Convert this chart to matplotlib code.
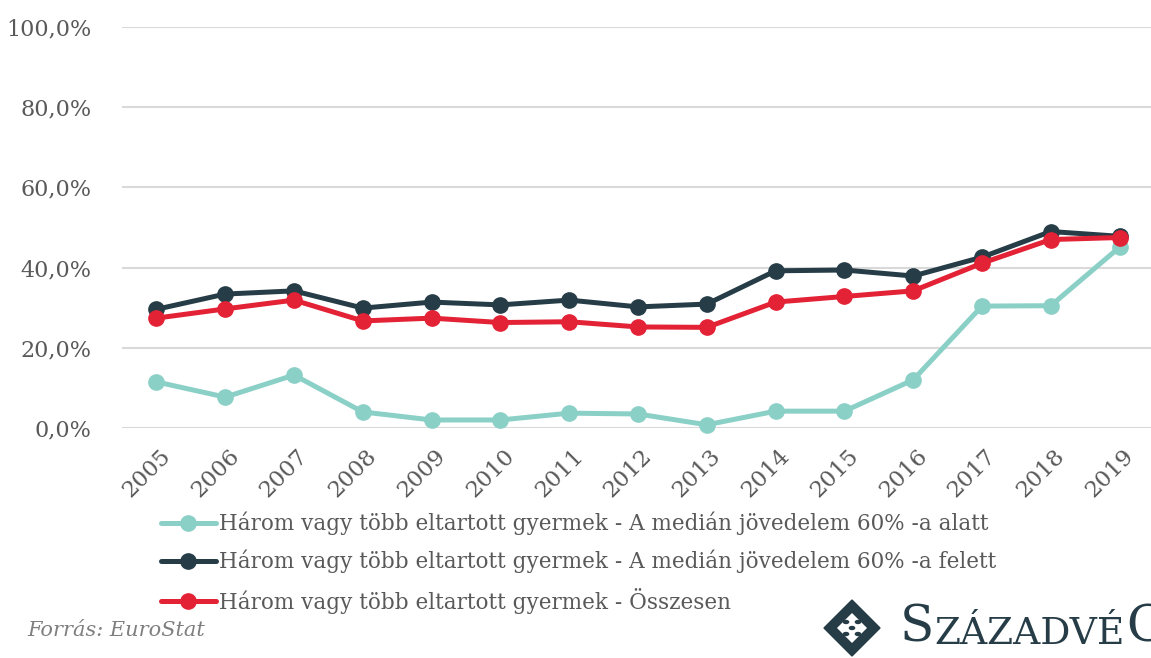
import matplotlib
matplotlib.use("Agg")
import matplotlib.pyplot as plt
from matplotlib.patches import Polygon, Circle
import matplotlib.transforms as mtransforms

# data
years = ['2005', '2006', '2007', '2008', '2009', '2010', '2011', '2012',
         '2013', '2014', '2015', '2016', '2017', '2018', '2019']
below_60 = [11.5, 7.7, 13.2, 4.0, 2.0, 2.0, 3.7, 3.5, 0.8, 4.2, 4.2, 12.0, 30.4, 30.5, 45.1]
above_60 = [29.6, 33.4, 34.2, 29.9, 31.4, 30.7, 31.9, 30.2, 30.9, 39.2, 39.4, 37.9, 42.6, 49.0, 47.8]
total = [27.4, 29.7, 31.9, 26.7, 27.4, 26.3, 26.5, 25.2, 25.1, 31.4, 32.8, 34.2, 41.1, 47.0, 47.5]

labels = ['Három vagy több eltartott gyermek - A medián jövedelem 60% -a alatt',
          'Három vagy több eltartott gyermek - A medián jövedelem 60% -a felett',
          'Három vagy több eltartott gyermek - Összesen']
colors = ['#8BD0C7', '#263D47', '#E32236']
yticks = [0, 20, 40, 60, 80, 100]

plt.rcParams['font.family'] = ['DejaVu Serif']
txt = '#595959'

fig = plt.figure(figsize=(11.51, 6.58), dpi=100)
ax = fig.add_axes([122 / 1151, (658 - 428) / 658, (1154 - 122) / 1151, (428 - 27) / 658])

x = list(range(len(years)))
for vals, col, lab in zip([below_60, above_60, total], colors, labels):
    ax.plot(x, vals, color=col, lw=3.6, marker='o', ms=11, label=lab, clip_on=False,
            solid_capstyle='round')

ax.set_ylim(0, 100)
ax.set_xlim(-0.5, 14.5)
ax.set_yticks(yticks)
ax.set_yticklabels([f'{v},0%' for v in yticks], fontsize=16, color=txt)
ax.set_xticks(x)
ax.set_xticklabels(years, fontsize=16.5, color=txt, rotation=45, ha='right',
                   rotation_mode='anchor')
ax.tick_params(axis='y', length=0, pad=22)
ax.tick_params(axis='x', length=0, pad=12)
shift = mtransforms.ScaledTranslation(3 / 100, 0, fig.dpi_scale_trans)
for lbl in ax.get_xticklabels():
    lbl.set_transform(lbl.get_transform() + shift)
ax.grid(axis='y', color='#D9D9D9', lw=1.5)
ax.set_axisbelow(True)
for s in ax.spines.values():
    s.set_visible(False)

leg = fig.legend(loc='upper left', bbox_to_anchor=(152 / 1151, 1 - 503 / 658), frameon=False,
                 fontsize=15.5, handlelength=2.55, handletextpad=0.14, labelspacing=0.68,
                 borderaxespad=0)
for t in leg.get_texts():
    t.set_color(txt)

fig.text(27 / 1151, 1 - 630 / 658, 'Forrás: EuroStat', fontsize=15, style='italic',
         color='#7F7F7F', va='center')

# logo
logo = '#263D47'
cx, cy, r = 852, 628, 28
pts = [(cx, cy - r), (cx + r, cy), (cx, cy + r), (cx - r, cy)]
fig.patches.append(Polygon([(px / 1151, 1 - py / 658) for px, py in pts], closed=True,
                           transform=fig.transFigure, color=logo))
r2 = 15
pts2 = [(cx, cy - r2), (cx + r2, cy), (cx, cy + r2), (cx - r2, cy)]
fig.patches.append(Polygon([(px / 1151, 1 - py / 658) for px, py in pts2], closed=True,
                           transform=fig.transFigure, fc='white', ec='none'))
for dx, dy in [(0, 0), (-6, -6), (6, -6), (-6, 6), (6, 6)]:
    fig.patches.append(Circle(((cx + dx) / 1151, 1 - (cy + dy) / 658), 2.6 / 1151,
                              transform=fig.transFigure, color=logo))
fig.text(900 / 1151, 1 - 628 / 658, 'S', fontsize=36, color=logo, va='center')
fig.text(934 / 1151, 1 - 634 / 658, 'ZÁZADVÉ', fontsize=27, color=logo, va='center')
fig.text(1126 / 1151, 1 - 628 / 658, 'G', fontsize=36, color=logo, va='center')

fig.savefig('out.png', dpi=100)
